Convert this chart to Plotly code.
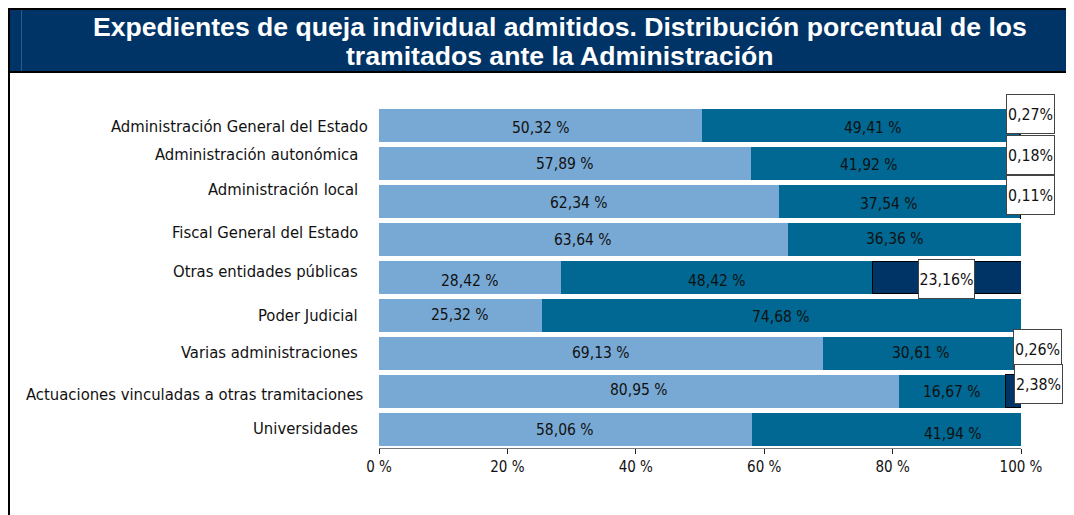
import plotly.graph_objects as go

# ---------------- data ----------------
categories = [
    "Administración General del Estado",
    "Administración autonómica",
    "Administración local",
    "Fiscal General del Estado",
    "Otras entidades públicas",
    "Poder Judicial",
    "Varias administraciones",
    "Actuaciones vinculadas a otras tramitaciones",
    "Universidades",
]
serie_1 = [50.32, 57.89, 62.34, 63.64, 28.42, 25.32, 69.13, 80.95, 58.06]
serie_2 = [49.41, 41.92, 37.54, 36.36, 48.42, 74.68, 30.61, 16.67, 41.94]
serie_3 = [0.27, 0.18, 0.11, 0.0, 23.16, 0.0, 0.26, 2.38, 0.0]
tick_vals = [0, 20, 40, 60, 80, 100]
tick_text = ["0 %", "20 %", "40 %", "60 %", "80 %", "100 %"]
title_lines = [
    "Expedientes de queja individual admitidos. Distribución porcentual de los",
    "tramitados ante la Administración",
]

# ---------------- style ----------------
OFF = 8                      # page body margin of the browser
PAGE_W, PAGE_H = 1074, 515
W, H = PAGE_W - OFF, PAGE_H - OFF
L, R, T, B = 379 - OFF, 53, 107 - OFF, 67
PW, PH = W - L - R, H - T - B
C1, C2, C3 = "#78A9D4", "#006892", "#003366"
BANNER = "#003366"
FONT = "DejaVu Sans Condensed, DejaVu Sans"

# label offsets (pixels), per category
cat_xshift = [-9, -19, -19, -19, -19, -19, -19, -13, -19]
cat_yshift = [-1, 9, 12, 7, 6, 0, 1, -3, 1]
s1_yshift = [-2, 0, -1, 0, -3, 0, 0, 1, -1]
s2_xshift = [12, -16, -11, -9, 0, 0, 0, 0, 67]
s2_yshift = [-2, -1, -2, 1, -3, -2, 0, -1, -5]
s3_xshift = [10, 10, 10, 0, 0, 0, 17, 25, 0]
s3_yshift = [12, 9, 7, 0, -1, 0, 4, 7, 0]


def px_x(px):
    """page pixel x -> paper coordinate"""
    return (px - OFF - L) / PW


def px_y(py):
    """page pixel y -> paper coordinate"""
    return (H - B - (py - OFF)) / PH


def fmt(v, sep=" "):
    return f"{v:.2f}".replace(".", ",") + sep + "%"


fig = go.Figure()
fig.add_trace(go.Bar(y=categories, x=serie_1, orientation="h",
                     marker=dict(color=C1, line=dict(width=0)), hoverinfo="x+y"))
fig.add_trace(go.Bar(y=categories, x=serie_2, orientation="h",
                     marker=dict(color=C2, line=dict(width=0)), hoverinfo="x+y"))
fig.add_trace(go.Bar(y=categories, x=serie_3, orientation="h",
                     marker=dict(color=C3, line=dict(width=1, color="#000000")),
                     hoverinfo="x+y"))

ann = []
for i, c in enumerate(categories):
    ann.append(dict(x=0, xref="paper", y=c, yref="y", text=c, showarrow=False,
                    xanchor="right", yanchor="middle", xshift=cat_xshift[i],
                    yshift=cat_yshift[i], font=dict(family=FONT, size=16.5, color="#111")))
    ann.append(dict(x=serie_1[i] / 2, y=c, xref="x", yref="y", text=fmt(serie_1[i]),
                    showarrow=False, yshift=s1_yshift[i],
                    font=dict(family=FONT, size=15.5, color="#111")))
    ann.append(dict(x=serie_1[i] + serie_2[i] / 2, y=c, xref="x", yref="y",
                    text=fmt(serie_2[i]), showarrow=False, xshift=s2_xshift[i],
                    yshift=s2_yshift[i], font=dict(family=FONT, size=15.5, color="#111")))
    if serie_3[i] > 0:
        ann.append(dict(x=serie_1[i] + serie_2[i] + serie_3[i] / 2, y=c, xref="x", yref="y",
                        text=fmt(serie_3[i], ""), showarrow=False, xshift=s3_xshift[i],
                        yshift=s3_yshift[i], bgcolor="#FFFFFF", bordercolor="#444444",
                        borderwidth=1, borderpad=0, height=38,
                        width=55 if serie_3[i] >= 10 else 47,
                        font=dict(family=FONT, size=15.8, color="#111")))

# title in banner
for j, line in enumerate(title_lines):
    ann.append(dict(x=px_x(560), y=px_y(27 + j * 29), xref="paper", yref="paper",
                    text=f"<b>{line}</b>", showarrow=False, xanchor="center",
                    yanchor="middle",
                    font=dict(family="Liberation Sans Narrow, Liberation Sans, Arial",
                              size=26.6, color="#FFFFFF")))

shapes = [
    dict(type="rect", xref="paper", yref="paper", x0=px_x(8), x1=px_x(PAGE_W + 5),
         y0=px_y(72), y1=px_y(9), fillcolor=BANNER, line=dict(color="#000", width=2),
         layer="below"),
    dict(type="line", xref="paper", yref="paper", x0=px_x(21.5), x1=px_x(21.5),
         y0=px_y(71), y1=px_y(10), line=dict(color="#2E5A8A", width=1)),
    dict(type="line", xref="paper", yref="paper", x0=px_x(8.5), x1=px_x(8.5),
         y0=px_y(PAGE_H + 5), y1=px_y(8), line=dict(color="#000", width=3)),
]

fig.update_layout(
    width=W, height=H,
    margin=dict(l=L, r=R, t=T, b=B),
    barmode="stack", bargap=0.13,
    showlegend=False,
    plot_bgcolor="#FFFFFF", paper_bgcolor="#FFFFFF",
    annotations=ann, shapes=shapes,
    xaxis=dict(range=[0, 100], tickvals=tick_vals, ticktext=tick_text,
               showgrid=False, zeroline=False, showline=True, linecolor="#777",
               linewidth=1, ticks="outside", ticklen=5, tickcolor="#222",
               tickfont=dict(family=FONT, size=15, color="#111"), fixedrange=True),
    yaxis=dict(categoryorder="array", categoryarray=categories, autorange="reversed",
               showticklabels=False, showgrid=False, zeroline=False, showline=False,
               fixedrange=True),
)

fig.write_html("out.html")
